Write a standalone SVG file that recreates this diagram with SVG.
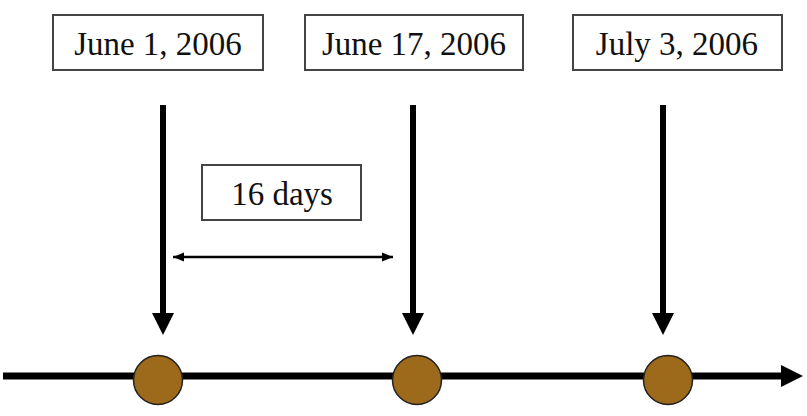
<svg xmlns="http://www.w3.org/2000/svg" width="807" height="416" viewBox="0 0 807 416">
<defs>
<style>
.box{fill:#fff;stroke:#444;stroke-width:2}
.lbl{font-family:"Liberation Serif","Times New Roman",serif;font-size:33px;fill:#111;text-anchor:middle}
.drop{stroke:#000;stroke-width:6;fill:none}
.dot{fill:#9C6A1A;stroke:#222;stroke-width:1.5}
</style>
<marker id="ah" viewBox="0 0 10 10" refX="10" refY="5" markerWidth="11" markerHeight="11" markerUnits="userSpaceOnUse" orient="auto-start-reverse"><path d="M0,1 L10,5 L0,9 Z" fill="#000"/></marker>
</defs>
<rect width="807" height="416" fill="#fff"/>
<g id="connectors">
<line x1="3" y1="376" x2="782" y2="376" stroke="#000" stroke-width="7"/>
<path d="M781,365 L803,376 L781,387 Z" fill="#000"/>
<line class="drop" x1="163" y1="105" x2="163" y2="315"/>
<path d="M152,313 L174,313 L163,335 Z" fill="#000"/>
<line class="drop" x1="413" y1="105" x2="413" y2="315"/>
<path d="M402,313 L424,313 L413,335 Z" fill="#000"/>
<line class="drop" x1="663" y1="105" x2="663" y2="315"/>
<path d="M652,313 L674,313 L663,335 Z" fill="#000"/>
<line x1="173" y1="257" x2="393" y2="257" stroke="#000" stroke-width="2.5" marker-start="url(#ah)" marker-end="url(#ah)"/>
</g>
<g id="date1"><rect class="box" x="53" y="15" width="210" height="55"/><text class="lbl" x="158" y="55">June 1, 2006</text></g>
<g id="date2"><rect class="box" x="305" y="15" width="218" height="55"/><text class="lbl" x="414" y="55">June 17, 2006</text></g>
<g id="date3"><rect class="box" x="573" y="15" width="209" height="55"/><text class="lbl" x="677" y="55">July 3, 2006</text></g>
<g id="interval"><rect class="box" x="202" y="165" width="159" height="55"/><text class="lbl" x="282" y="205">16 days</text></g>
<g id="event1"><circle class="dot" cx="158" cy="380" r="24.5"/></g>
<g id="event2"><circle class="dot" cx="417" cy="380" r="24.5"/></g>
<g id="event3"><circle class="dot" cx="668" cy="380" r="24.5"/></g>
</svg>
